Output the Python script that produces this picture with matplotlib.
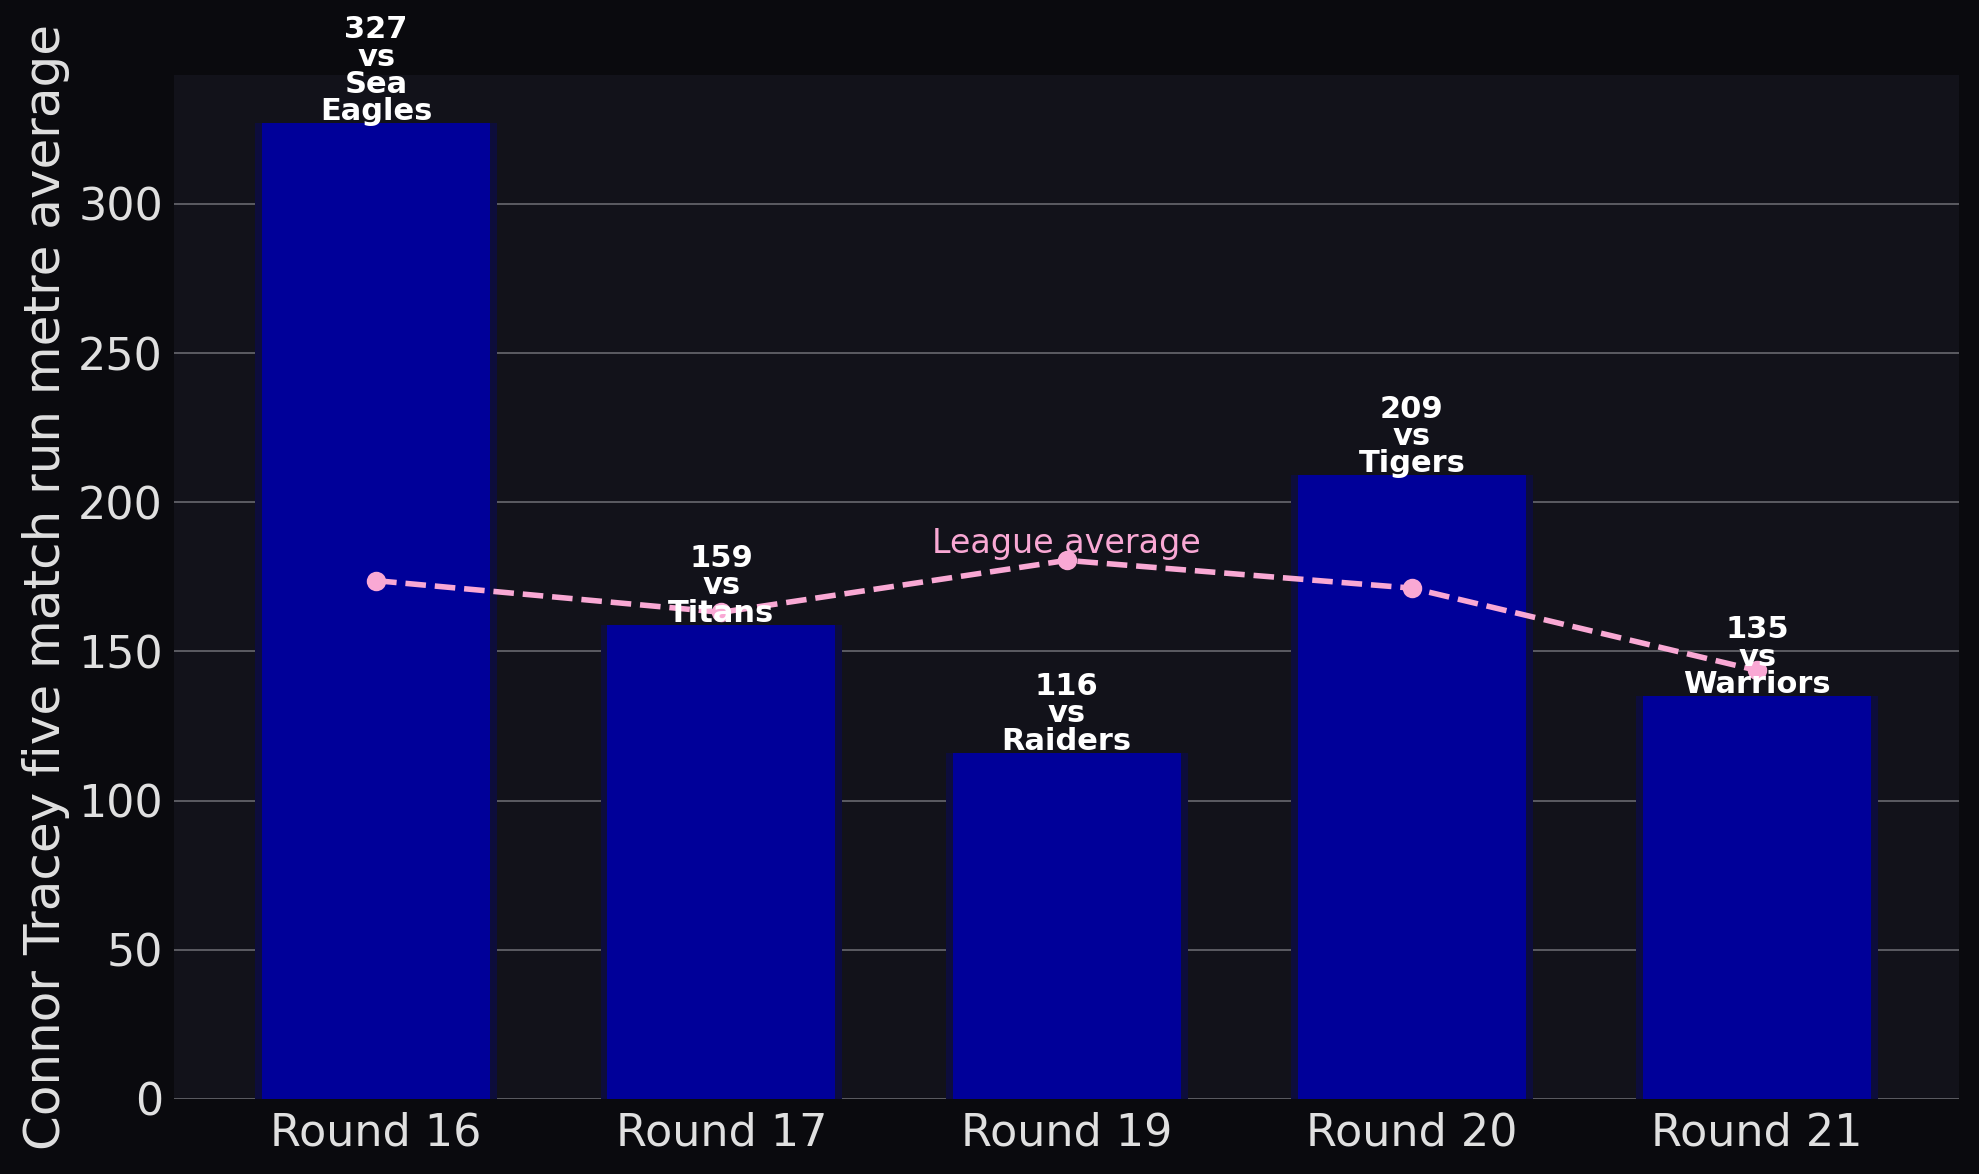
import numpy as np
import matplotlib
matplotlib.use("Agg")
import matplotlib.pyplot as plt

# Datos
rounds = ["Round 16", "Round 17", "Round 19", "Round 20", "Round 21"]
opponents = ["Sea\nEagles", "Titans", "Raiders", "Tigers", "Warriors"]
run_metres = [327, 159, 116, 209, 135]
league_avg = [173.7, 163.1, 180.5, 171.2, 143.6]

fig_bg = "#0a0a0e"
ax_bg = "#12121a"
bar_color = "#000099"
halo_color = "#0d0d3c"
pink = "#f9a8d4"
text_grey = "#e0e0e0"

fig = plt.figure(figsize=(9.895, 5.87), dpi=200, facecolor=fig_bg)
ax = fig.add_axes([0.088, 0.064, 0.902, 0.8725])
ax.set_facecolor(ax_bg)

x = np.arange(len(rounds))

# barras con un pequeño halo alrededor
ax.bar(x, run_metres, width=0.7, color=halo_color, zorder=2)
ax.bar(x, run_metres, width=0.66, color=bar_color, zorder=3)

# etiquetas encima de cada barra
for xi, val, opp in zip(x, run_metres, opponents):
    ax.text(xi, val - 1, f"{val}\nvs\n{opp}", ha="center", va="bottom",
            color="white", fontsize=11, fontweight="bold",
            linespacing=0.93, zorder=5)

# media de la liga
ax.plot(x, league_avg, linestyle="--", color=pink, linewidth=2,
        marker="o", markersize=6, zorder=4)
ax.text(x[2], league_avg[2], "League average", ha="center", va="bottom",
        color=pink, fontsize=12, zorder=5)

ax.set_xticks(x)
ax.set_xticklabels(rounds)
ax.set_ylabel("Connor Tracey five match run metre average", fontsize=18,
              color=text_grey, labelpad=3)
ax.tick_params(axis="both", length=0, labelsize=16, labelcolor=text_grey)
ax.tick_params(axis="y", pad=4)
ax.tick_params(axis="x", pad=4.5)

ax.yaxis.grid(True, color="#5c5c62", linewidth=0.7, zorder=0)
ax.xaxis.grid(False)
ax.set_axisbelow(True)
for s in ax.spines.values():
    s.set_visible(False)

fig.savefig("out.png", dpi=200, facecolor=fig_bg)
